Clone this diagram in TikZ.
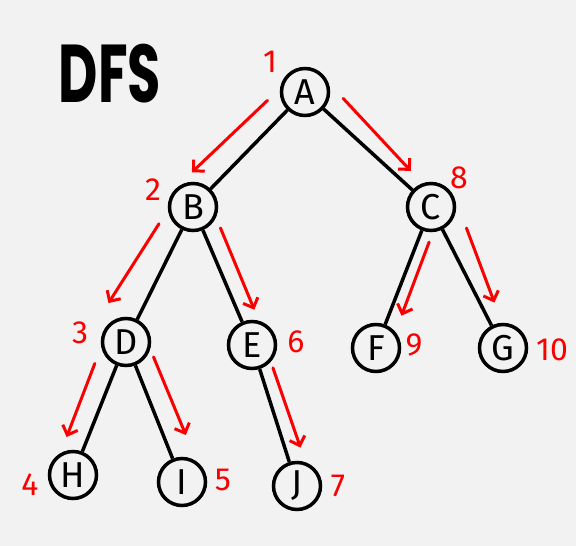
\documentclass[tikz,border=0pt]{standalone}
\usepackage{fontspec}
\setsansfont{Fira Sans}
\newfontfamily\titlefont{Poppins}
\usetikzlibrary{arrows.meta,calc}
\definecolor{paper}{RGB}{242,242,242}
\definecolor{inkred}{RGB}{250,0,0}

\begin{document}
\begin{tikzpicture}[x=1pt, y=-1pt,
    vtx/.style={circle, draw=black, line width=3.5pt, fill=paper,
                minimum size=47pt, inner sep=0pt,
                font=\sffamily\fontsize{36}{36}\selectfont},
    edge/.style={line width=3.5pt},
    trav/.style={draw=inkred, line width=3pt, line cap=round,
                 -{Straight Barb[length=8pt,width=16pt]}},
    num/.style={text=inkred, inner sep=0pt, font=\sffamily\fontsize{32}{32}\selectfont}]
\fill[paper] (0,0) rectangle (576,546);
\node[font=\titlefont\bfseries\fontsize{82}{82}\selectfont] (title) at (110,74) {\scalebox{0.66}[1]{DFS}};
% vertices
\node[vtx] (A) at (305,92) {A};
\node[vtx] (B) at (193,207) {B};
\node[vtx] (C) at (431,207) {C};
\node[vtx] (D) at (126,342) {D};
\node[vtx] (E) at (252,345) {E};
\node[vtx] (F) at (376,348) {F};
\node[vtx] (G) at (503,348) {G};
\node[vtx] (H) at (73,475) {H};
\node[vtx] (I) at (182,482) {I};
\node[vtx] (J) at (297,486) {J};
% visiting order
\node[num] (n1) at (270,62) {1};
\node[num] (n2) at (153,190) {2};
\node[num] (n3) at (80,333) {3};
\node[num] (n4) at (30,485) {4};
\node[num] (n5) at (223,480) {5};
\node[num] (n6) at (296,342) {6};
\node[num] (n7) at (338,486) {7};
\node[num] (n8) at (459,178) {8};
\node[num] (n9) at (414,345) {9};
\node[num] (n10) at (552,350) {10};
% tree edges
\draw[edge] (A) -- (B);
\draw[edge] (A) -- (C);
\draw[edge] (B) -- (D);
\draw[edge] (B) -- (E);
\draw[edge] (D) -- (H);
\draw[edge] (D) -- (I);
\draw[edge] (E) -- (J);
\draw[edge] (C) -- (F);
\draw[edge] (C) -- (G);
% traversal arrows
\draw[trav] ($(A)!0.2!(B)!21pt!-90:(B)$) -- ($(A)!0.85!(B)!25pt!-90:(B)$);
\draw[trav] ($(B)!0.2!(D)!23pt!-90:(D)$) -- ($(B)!0.82!(D)!33pt!-90:(D)$);
\draw[trav] ($(D)!0.22!(H)!21pt!-90:(H)$) -- ($(D)!0.77!(H)!20pt!-90:(H)$);
\draw[trav] ($(D)!0.16!(I)!20pt!90:(I)$) -- ($(D)!0.72!(I)!21pt!90:(I)$);
\draw[trav] ($(B)!0.2!(E)!17pt!90:(E)$) -- ($(B)!0.79!(E)!16pt!90:(E)$);
\draw[trav] ($(E)!0.19!(J)!13pt!90:(J)$) -- ($(E)!0.76!(J)!15pt!90:(J)$);
\draw[trav] ($(A)!0.19!(C)!21pt!90:(C)$) -- ($(A)!0.77!(C)!13pt!90:(C)$);
\draw[trav] ($(C)!0.22!(F)!11pt!90:(F)$) -- ($(C)!0.74!(F)!12pt!90:(F)$);
\draw[trav] ($(C)!0.22!(G)!22pt!90:(G)$) -- ($(C)!0.72!(G)!13pt!90:(G)$);
\end{tikzpicture}
\end{document}
